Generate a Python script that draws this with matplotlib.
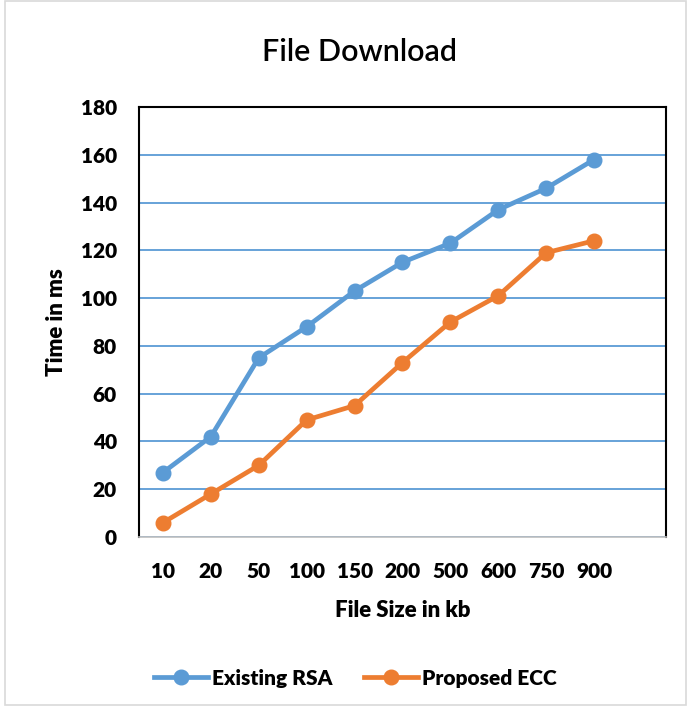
import matplotlib.pyplot as plt
from matplotlib.patches import Rectangle

sizes = ['10', '20', '50', '100', '150', '200', '500', '600', '750', '900']
rsa = [27, 42, 75, 88, 103, 115, 123, 137, 146, 158]
ecc = [6, 18, 30, 49, 55, 73, 90, 101, 119, 124]

plt.rcParams['font.family'] = ['Lato', 'DejaVu Sans']

fig = plt.figure(figsize=(6.87, 7.08), dpi=100)
ax = fig.add_axes([0.2023, 0.2415, 0.7671, 0.6074])

x = list(range(len(sizes)))
ax.plot(x, rsa, color='#5B9BD5', lw=3.4, marker='o', markersize=10.5, label='Existing RSA', zorder=3)
ax.plot(x, ecc, color='#ED7D31', lw=3.4, marker='o', markersize=10.5, label='Proposed ECC', zorder=3)

ax.set_xlim(-0.5, 10.5)
ax.set_ylim(0, 180)
ax.set_yticks(range(0, 181, 20))
ax.set_xticks(x)
ax.set_xticklabels(sizes)
ax.yaxis.grid(True, color='#5B9BD5', lw=1.3)
ax.set_axisbelow(True)
ax.tick_params(length=0, labelsize=15, pad=16)
ax.tick_params(axis='x', pad=18)
for lab in ax.get_xticklabels() + ax.get_yticklabels():
    lab.set_fontweight('heavy')

for s in ['left', 'top', 'right']:
    ax.spines[s].set_color('black')
    ax.spines[s].set_linewidth(1.5)
ax.spines['bottom'].set_color('#BFBFBF')
ax.spines['bottom'].set_linewidth(1.2)

ax.set_xlabel('File Size in kb', fontsize=16, fontweight='heavy', labelpad=14)
ax.set_ylabel('Time in ms', fontsize=16, fontweight='heavy', labelpad=10)
fig.text(0.524, 0.926, 'File Download', ha='center', va='center', fontsize=22,
         color='black', fontweight='semibold')

fig.legend(loc='center', bbox_to_anchor=(0.517, 0.042), ncol=2, frameon=False,
           prop={'size': 15, 'weight': 'heavy'}, handlelength=2.6, handletextpad=0.2,
           columnspacing=1.5)

fig.patches.append(Rectangle((0.008, 0.004), 0.99, 0.995, transform=fig.transFigure,
                             fill=False, edgecolor='#D9D9D9', lw=1.2))

fig.savefig('out.png', dpi=100)
